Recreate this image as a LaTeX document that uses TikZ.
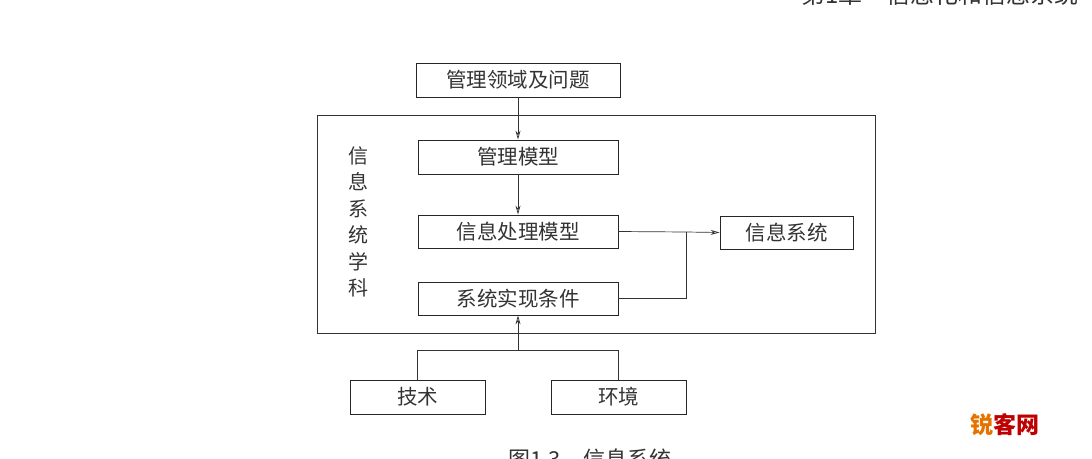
\documentclass[tikz,border=0pt]{standalone}
\usepackage{fontspec}
\newfontfamily\cjk{Noto Sans CJK SC}[Scale=1]
\usetikzlibrary{arrows.meta}
\begin{document}
\begin{tikzpicture}[x=1pt,y=-1pt,
  box/.style={draw=black!85,line width=0.8pt,inner sep=0pt,font=\cjk\fontsize{20.5}{22}\selectfont,text=black!80},
  ln/.style={draw=black!80,line width=0.7pt},
  arr/.style={ln,-{Stealth[open,length=9pt,width=5pt]}}]
\useasboundingbox (0,0) rectangle (1092,458);
\clip (0,0) rectangle (1092,458);
\node[box,minimum width=204pt,minimum height=34pt] (p) at (518,80) {管理领域及问题};
\draw[ln] (317,115) rectangle (875,333);
\node[box,minimum width=200pt,minimum height=34pt] (m) at (518,157) {管理模型};
\node[box,minimum width=200pt,minimum height=33pt] (i) at (518,231.5) {信息处理模型};
\node[box,minimum width=133pt,minimum height=33pt] (s) at (786.5,232.5) {信息系统};
\node[box,minimum width=200pt,minimum height=33pt] (c) at (518,298.5) {系统实现条件};
\node[box,minimum width=135pt,minimum height=34pt] (t) at (417.5,397) {技术};
\node[box,minimum width=135pt,minimum height=34pt] (e) at (618.5,397) {环境};
\node[font=\cjk\fontsize{20}{26.5}\selectfont,text=black!80,align=center] (v) at (358,222) {信\\息\\系\\统\\学\\科};
\coordinate (j) at (686,232);
\coordinate (b) at (518,350);
\draw[arr] (p) -- (m);
\draw[arr] (m) -- (i);
\draw[ln] (i.east) -- (j);
\draw[arr] (j) -- (s.west);
\draw[ln] (c.east) -| (j);
\draw[ln] (t.north) |- (b);
\draw[ln] (e.north) |- (b);
\draw[arr] (b) -- (c.south);
\node[font=\cjk\fontsize{24}{26}\selectfont,text=black!80,anchor=south west] (h) at (798,9) {第1章\quad 信息化和信息系统};
\node[font=\cjk\fontsize{22}{24}\selectfont,text=black!80,anchor=north west] (cap) at (505,445) {图1.3\quad 信息系统};
\node[font=\cjk\bfseries\fontsize{23}{24}\selectfont,anchor=center] (w) at (1005,425) {\textcolor{orange!90!black}{锐}\textcolor{red!75!black}{客网}};
\end{tikzpicture}
\end{document}
